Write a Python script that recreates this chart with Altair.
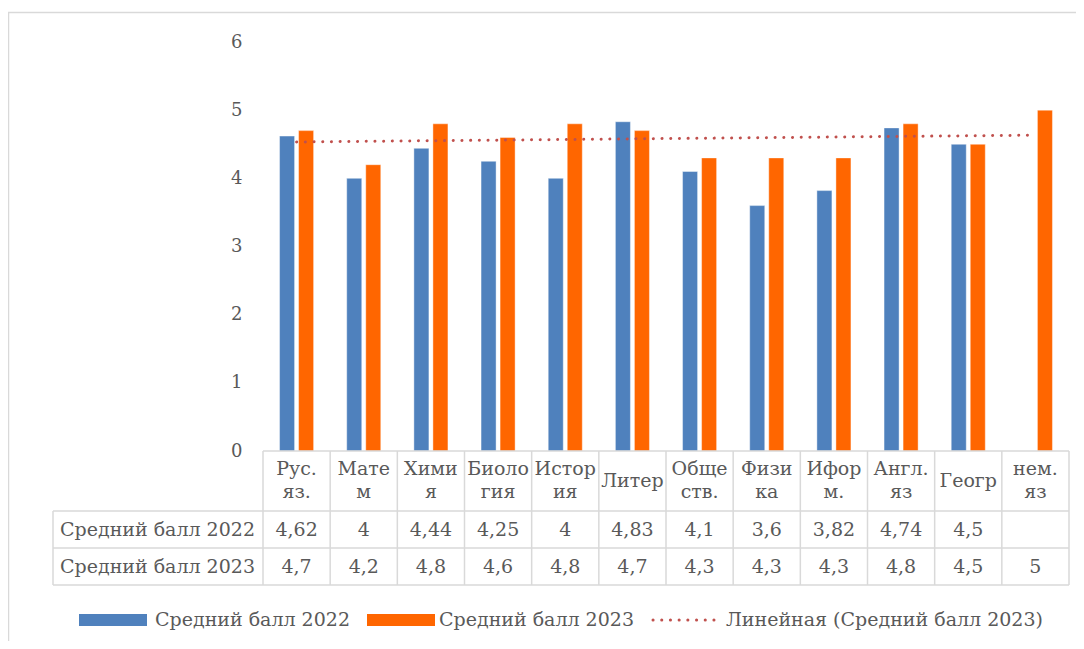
import altair as alt
import pandas as pd

# ---- data ----
categories = ["Рус. яз.", "Матем", "Химия", "Биология", "История", "Литер",
              "Обществ.", "Физика", "Иформ.", "Англ. яз", "Геогр", "нем. яз"]
header_labels = ["Рус.|яз.", "Мате|м", "Хими|я", "Биоло|гия", "Истор|ия", "Литер",
                 "Обще|ств.", "Физи|ка", "Ифор|м.", "Англ.|яз", "Геогр", "нем.|яз"]
scores_2022 = [4.62, 4, 4.44, 4.25, 4, 4.83, 4.1, 3.6, 3.82, 4.74, 4.5, None]
scores_2023 = [4.7, 4.2, 4.8, 4.6, 4.8, 4.7, 4.3, 4.3, 4.3, 4.8, 4.5, 5]
series_names = ["Средний балл 2022", "Средний балл 2023"]
trend_name = "Линейная (Средний балл 2023)"
y_ticks = [0, 1, 2, 3, 4, 5, 6]

BLUE = "#4F81BD"
ORANGE = "#FF6600"
RED = "#C0504D"
GRID = "#D9D9D9"
TXT = "#595959"
FONT = "DejaVu Serif"
FS = 19

W, H = 806, 409


def fmt(v):
    if v is None:
        return ""
    s = ("%g" % v)
    return s.replace(".", ",")


cat_df = pd.DataFrame({
    "cat": categories,
    "label": header_labels,
    "idx": list(range(1, len(categories) + 1)),
    "s2022": [fmt(v) for v in scores_2022],
    "s2023": [fmt(v) for v in scores_2023],
})

rows = []
for c, a, b in zip(categories, scores_2022, scores_2023):
    if a is not None:
        rows.append({"cat": c, "series": series_names[0], "value": a})
    if b is not None:
        rows.append({"cat": c, "series": series_names[1], "value": b})
long_df = pd.DataFrame(rows)

df23 = pd.DataFrame({"idx": list(range(1, len(categories) + 1)), "value": scores_2023})

xcat = alt.X("cat:N", sort=categories, axis=None,
             scale=alt.Scale(paddingInner=0, paddingOuter=0))
yscale = alt.Scale(domain=[0, 6])
yaxis = alt.Axis(values=y_ticks, format="d", labelFont=FONT, labelFontSize=18,
                 labelColor=TXT, domain=False, ticks=False, grid=False, title=None,
                 labelPadding=21)

one = pd.DataFrame({"a": [0]})

border = alt.Chart(one).mark_rect(filled=False, stroke=GRID, strokeWidth=1.5).encode(
    x=alt.value(-254.5), x2=alt.value(W + 60), y=alt.value(-29.5), y2=alt.value(H + 300))

bars = alt.Chart(long_df).mark_bar(stroke="white", strokeWidth=0.6, strokeOpacity=0.7).encode(
    x=xcat,
    xOffset=alt.XOffset("series:N", sort=series_names,
                        scale=alt.Scale(paddingInner=0.21, paddingOuter=0.87)),
    y=alt.Y("value:Q", scale=yscale, axis=yaxis),
    color=alt.Color("series:N", scale=alt.Scale(domain=series_names, range=[BLUE, ORANGE]),
                    legend=None),
)

trend = alt.Chart(df23).transform_regression("idx", "value", method="linear").transform_lookup(
    lookup="idx", from_=alt.LookupData(data=cat_df, key="idx", fields=["cat"])
).mark_line(color=RED, strokeWidth=3, strokeDash=[0.1, 8.6], strokeCap="round").encode(
    x=alt.X("cat:N", sort=categories, axis=None),
    y=alt.Y("value:Q", scale=yscale),
)

layers = [border, bars, trend]

# table grid
y_axisline = H
y_r1, y_r2, y_r3 = H + 60, H + 97, H + 134
layers.append(alt.Chart(one).mark_rule(color=GRID, strokeWidth=1.5).encode(
    x=alt.value(0), x2=alt.value(W), y=alt.value(y_axisline)))
for yy in (y_r1, y_r2, y_r3):
    layers.append(alt.Chart(one).mark_rule(color=GRID, strokeWidth=1.5).encode(
        x=alt.value(-210), x2=alt.value(W), y=alt.value(yy)))
layers.append(alt.Chart(cat_df).mark_rule(color=GRID, strokeWidth=1.5).encode(
    x=alt.X("cat:N", sort=categories, axis=None, bandPosition=0),
    y=alt.value(y_axisline), y2=alt.value(y_r3)))
layers.append(alt.Chart(one).mark_rule(color=GRID, strokeWidth=1.5).encode(
    x=alt.value(W), y=alt.value(y_axisline), y2=alt.value(y_r3)))
layers.append(alt.Chart(one).mark_rule(color=GRID, strokeWidth=1.5).encode(
    x=alt.value(-210), y=alt.value(y_r1), y2=alt.value(y_r3)))

# table texts
txt = dict(font=FONT, fontSize=FS, color=TXT, baseline="middle")
layers.append(alt.Chart(cat_df).transform_filter("indexof(datum.label, '|') >= 0")
              .mark_text(lineBreak="|", lineHeight=23, **txt).encode(
    x=alt.X("cat:N", sort=categories, axis=None), y=alt.value(H + 18), text="label:N"))
layers.append(alt.Chart(cat_df).transform_filter("indexof(datum.label, '|') < 0")
              .mark_text(**txt).encode(
    x=alt.X("cat:N", sort=categories, axis=None), y=alt.value(H + 30), text="label:N"))
layers.append(alt.Chart(cat_df).mark_text(**txt).encode(
    x=alt.X("cat:N", sort=categories, axis=None), y=alt.value(H + 79), text="s2022:N"))
layers.append(alt.Chart(cat_df).mark_text(**txt).encode(
    x=alt.X("cat:N", sort=categories, axis=None), y=alt.value(H + 116), text="s2023:N"))
layers.append(alt.Chart(one).mark_text(align="left", text=series_names[0], **txt).encode(
    x=alt.value(-203), y=alt.value(H + 79)))
layers.append(alt.Chart(one).mark_text(align="left", text=series_names[1], **txt).encode(
    x=alt.value(-203), y=alt.value(H + 116)))

# legend
LY = H + 169
layers.append(alt.Chart(one).mark_rect(color=BLUE).encode(
    x=alt.value(-184), x2=alt.value(-116), y=alt.value(LY - 6), y2=alt.value(LY + 6)))
layers.append(alt.Chart(one).mark_text(align="left", text=series_names[0], **txt).encode(
    x=alt.value(-108), y=alt.value(LY)))
layers.append(alt.Chart(one).mark_rect(color=ORANGE).encode(
    x=alt.value(104), x2=alt.value(172), y=alt.value(LY - 6), y2=alt.value(LY + 6)))
layers.append(alt.Chart(one).mark_text(align="left", text=series_names[1], **txt).encode(
    x=alt.value(176), y=alt.value(LY)))
layers.append(alt.Chart(one).mark_rule(color=RED, strokeWidth=3, strokeDash=[0.1, 8.6],
                                       strokeCap="round").encode(
    x=alt.value(390), x2=alt.value(455), y=alt.value(LY)))
layers.append(alt.Chart(one).mark_text(align="left", text=trend_name, **txt).encode(
    x=alt.value(463), y=alt.value(LY)))

chart = alt.layer(*layers).properties(
    width=W, height=H, autosize="none",
    padding={"left": 255, "top": 34, "right": 7, "bottom": 190},
).configure(background="white", view=alt.ViewConfig(stroke=None))

chart.save("out.html", embed_options={"renderer": "svg", "actions": False})
